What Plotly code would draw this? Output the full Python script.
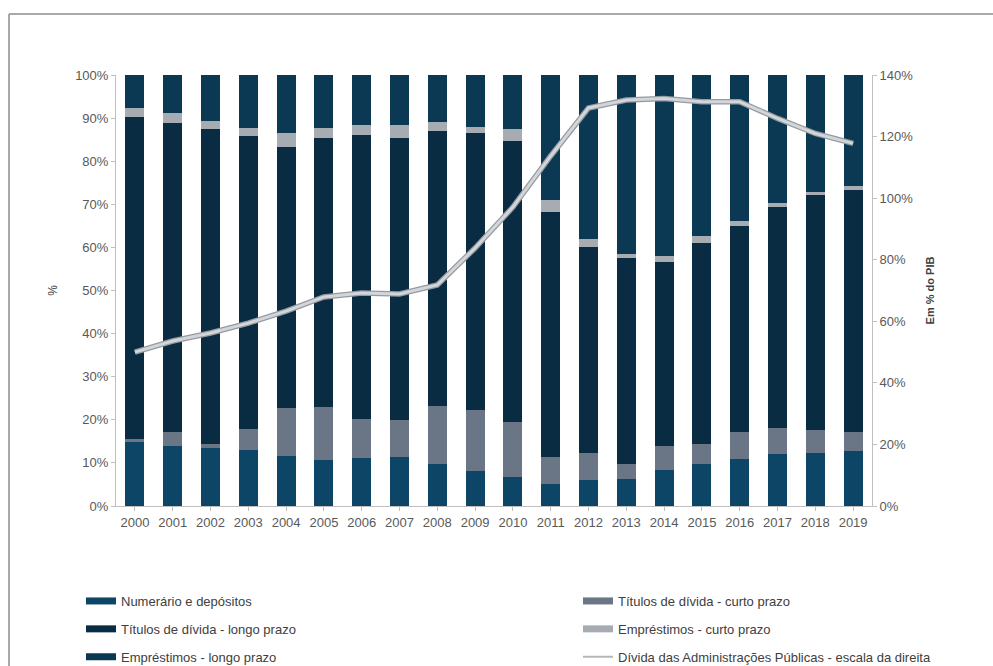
import plotly.graph_objects as go

years = [str(y) for y in range(2000, 2020)]

numerario = [14.9, 14.0, 13.5, 13.0, 11.6, 10.7, 11.2, 11.4, 9.7, 8.1,
             6.8, 5.1, 6.0, 6.3, 8.4, 9.7, 10.9, 12.0, 12.4, 12.8]
titulos_curto = [0.6, 3.2, 0.8, 4.8, 11.1, 12.2, 9.1, 8.6, 13.5, 14.2,
                 12.6, 6.2, 6.2, 3.4, 5.5, 4.6, 6.3, 6.0, 5.2, 4.4]
titulos_longo = [74.8, 71.7, 73.1, 68.0, 60.5, 62.6, 65.8, 65.3, 63.9, 64.2,
                 65.3, 57.0, 47.8, 47.8, 42.8, 46.8, 47.8, 51.4, 54.6, 56.1]
emprest_curto = [2.0, 2.4, 2.0, 2.0, 3.4, 2.1, 2.3, 3.1, 2.1, 1.5,
                 2.8, 2.7, 1.9, 1.0, 1.3, 1.5, 1.1, 0.8, 0.7, 0.9]
emprest_longo = [7.7, 8.7, 10.6, 12.2, 13.4, 12.4, 11.6, 11.6, 10.8, 12.0,
                 12.5, 29.0, 38.1, 41.5, 42.0, 37.4, 33.9, 29.8, 27.1, 25.8]
divida_pib = [50.0, 53.6, 56.2, 59.4, 63.3, 67.9, 69.2, 68.9, 71.8, 83.8,
              97.1, 113.7, 129.3, 131.9, 132.4, 131.3, 131.3, 125.9, 121.0, 117.8]

names = ["Numerário e depósitos", "Títulos de dívida - curto prazo",
         "Títulos de dívida - longo prazo", "Empréstimos - curto prazo",
         "Empréstimos - longo prazo"]
colors = ["#0d4566", "#6a7685", "#0a2c42", "#a7acb2", "#0b3953"]
series = [numerario, titulos_curto, titulos_longo, emprest_curto, emprest_longo]
legend_of = ["legend", "legend2", "legend", "legend2", "legend"]

FONT = "Liberation Sans, Arial, sans-serif"
W, H = 993, 666
ML, MR, MT, MB = 116, 121, 75, 160
PW, PH = W - ML - MR, H - MT - MB


def px_x(x):
    return (x - ML) / PW


def px_y(y):
    return (H - MB - y) / PH


fig = go.Figure()

for name, col, vals in zip(names, colors, series):
    fig.add_trace(go.Bar(x=years, y=vals, name=name, marker_color=col,
                         marker_line_width=0, showlegend=False, yaxis="y"))

# line (outline + light core)
fig.add_trace(go.Scatter(x=years, y=divida_pib, mode="lines", yaxis="y2",
                         line=dict(color="#959aa1", width=5.5),
                         showlegend=False, hoverinfo="skip"))
fig.add_trace(go.Scatter(x=years, y=divida_pib, mode="lines", yaxis="y2",
                         name="Dívida das Administrações Públicas - escala da direita",
                         line=dict(color="#d2d6da", width=3), showlegend=False))

# legend entries
for i, (name, col) in enumerate(zip(names, colors)):
    fig.add_trace(go.Scatter(x=[None], y=[None], mode="lines", name=name,
                             line=dict(color=col, width=7),
                             legend=legend_of[i], legendgroup=name,
                             showlegend=True))
fig.add_trace(go.Scatter(x=[None], y=[None], mode="lines",
                         name="Dívida das Administrações Públicas - escala da direita",
                         line=dict(color="#b3b7bc", width=2),
                         legend="legend2", legendgroup="divida", showlegend=True))

legend_common = dict(orientation="v", font=dict(family=FONT, size=13, color="#404040"),
                     bgcolor="rgba(0,0,0,0)", tracegroupgap=8, itemclick=False,
                     yanchor="top", xanchor="left")

fig.update_layout(
    width=W, height=H,
    margin=dict(l=ML, r=MR, t=MT, b=MB, autoexpand=False),
    paper_bgcolor="white", plot_bgcolor="white",
    barmode="stack", bargap=0.5,
    font=dict(family=FONT, size=13, color="#595959"),
    xaxis=dict(type="category", showline=True, linecolor="#bfbfbf", linewidth=1,
               ticks="outside", ticklen=4, tickcolor="#bfbfbf", showgrid=False,
               tickfont=dict(size=13, color="#595959")),
    yaxis=dict(range=[0, 100], dtick=10, ticksuffix="%", showgrid=False,
               showline=True, linecolor="#bfbfbf", linewidth=1,
               ticks="outside", ticklen=4, tickcolor="#bfbfbf",
               tickfont=dict(size=13, color="#595959"),
               title=dict(text="%", standoff=14, font=dict(size=12, color="#404040")),
               zeroline=False),
    yaxis2=dict(range=[0, 140], dtick=20, ticksuffix="%", overlaying="y",
                side="right", showgrid=False, showline=True, linecolor="#bfbfbf",
                linewidth=1, ticks="outside", ticklen=4, tickcolor="#bfbfbf",
                tickfont=dict(size=13, color="#595959"),
                title=dict(text="<b>Em % do PIB</b>", standoff=14,
                           font=dict(size=11, color="#404040")),
                zeroline=False),
    legend=dict(x=px_x(81), y=px_y(586), **legend_common),
    legend2=dict(x=px_x(578), y=px_y(586), **legend_common),
    showlegend=True,
    shapes=[
        dict(type="line", xref="paper", yref="paper",
             x0=px_x(9), x1=px_x(1000), y0=px_y(14), y1=px_y(14),
             line=dict(color="#8c8c8c", width=1.5), layer="below"),
        dict(type="line", xref="paper", yref="paper",
             x0=px_x(9), x1=px_x(9), y0=px_y(14), y1=px_y(700),
             line=dict(color="#8c8c8c", width=1.5), layer="below"),
    ],
)

fig.write_html("out.html")
